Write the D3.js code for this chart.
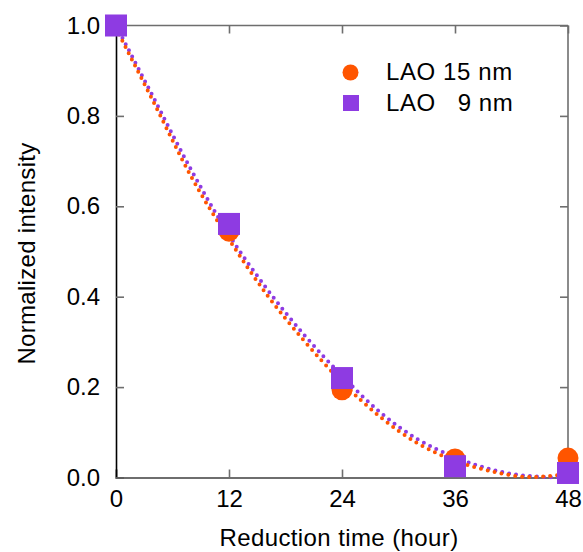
<!DOCTYPE html>
<html>
<head>
<meta charset="utf-8">
<script src="https://cdn.jsdelivr.net/npm/d3@7"></script>
<style>
  html, body { margin: 0; padding: 0; background: #fff; }
  svg { display: block; font-family: "Liberation Sans", Arial, Helvetica, sans-serif; }
</style>
</head>
<body>
<svg id="chart" width="583" height="552"></svg>
<script>
// Measured points
const hours = [0, 12, 24, 36, 48];
const lao15 = [1.0, 0.545, 0.194, 0.041, 0.043];
const lao9  = [1.0, 0.561, 0.220, 0.025, 0.010];

// Fitted trend curves (sampled)
const fitHours = [0, 4, 8, 12, 16, 20, 24, 28, 32, 36, 40, 44, 48];
const fit15 = [0.994, 0.83, 0.665, 0.527, 0.405, 0.302, 0.211, 0.135, 0.076, 0.037, 0.013, 0.001, 0.008];
const fit9  = [1.0, 0.84, 0.68, 0.537, 0.418, 0.315, 0.225, 0.145, 0.085, 0.045, 0.017, 0.003, 0.0];

// Axis ticks and labels
const xTicks = [0, 12, 24, 36, 48];
const yTicks = [0, 0.2, 0.4, 0.6, 0.8, 1.0];
const seriesNames = ["LAO 15 nm", "LAO   9 nm"];
const xTitle = "Reduction time (hour)";
const yTitle = "Normalized intensity";

(function draw() {
  const orange = "#ff5500";
  const purple = "#8e3be2";
  const gray = "#6e6e6e";
  const font = "Liberation Sans, Arial, sans-serif";

  const svg = d3.select("#chart");
  const m = { left: 116, right: 568, top: 25.5, bottom: 477.5 };

  const x = d3.scaleLinear().domain([0, 48]).range([m.left, m.right]);
  const y = d3.scaleLinear().domain([0, 1]).range([m.bottom, m.top]);

  // Frame
  svg.append("line").attr("x1", m.left).attr("x2", m.right).attr("y1", m.top).attr("y2", m.top)
    .attr("stroke", gray).attr("stroke-width", 1.6);
  svg.append("line").attr("x1", m.right).attr("x2", m.right).attr("y1", m.top).attr("y2", m.bottom)
    .attr("stroke", gray).attr("stroke-width", 1.6);

  // Bottom axis with inward ticks
  const xAxis = svg.append("g").attr("transform", `translate(0,${m.bottom})`)
    .call(d3.axisBottom(x).tickValues(xTicks).tickSize(-8).tickPadding(12).tickFormat(d3.format("d")));
  xAxis.select(".domain").attr("stroke", gray).attr("stroke-width", 1.8);
  xAxis.selectAll(".tick line").attr("stroke", gray).attr("stroke-width", 1.6);
  xAxis.selectAll(".tick text").attr("fill", "#000").style("font-size", "24px")
    .style("font-family", font);

  // Top ticks
  const xTop = svg.append("g").attr("transform", `translate(0,${m.top})`)
    .call(d3.axisTop(x).tickValues(xTicks).tickSize(-8).tickFormat(""));
  xTop.select(".domain").remove();
  xTop.selectAll(".tick line").attr("stroke", gray).attr("stroke-width", 1.6);

  // Right ticks
  const yRight = svg.append("g").attr("transform", `translate(${m.right},0)`)
    .call(d3.axisRight(y).tickValues(yTicks).tickSize(-8).tickFormat(""));
  yRight.select(".domain").remove();
  yRight.selectAll(".tick line").attr("stroke", gray).attr("stroke-width", 1.6);

  // Left axis
  const yAxis = svg.append("g").attr("transform", `translate(${m.left},0)`)
    .call(d3.axisLeft(y).tickValues(yTicks).tickSize(-8).tickPadding(16).tickFormat(d3.format(".1f")));
  yAxis.select(".domain").attr("stroke", "#000").attr("stroke-width", 1.6);
  yAxis.selectAll(".tick line").attr("stroke", gray).attr("stroke-width", 1.6);
  yAxis.selectAll(".tick text").attr("fill", "#000").style("font-size", "24px")
    .style("font-family", font);

  // Axis titles
  svg.append("text").attr("x", (m.left + m.right) / 2 - 3).attr("y", 546)
    .attr("text-anchor", "middle").style("font-size", "24px").style("letter-spacing", "0.4px")
    .text(xTitle);
  svg.append("text")
    .attr("transform", `translate(35,${(m.top + m.bottom) / 2 + 2}) rotate(-90)`)
    .attr("text-anchor", "middle").style("font-size", "24px").style("letter-spacing", "0.3px")
    .text(yTitle);

  // Fit curves (dotted)
  const line = d3.line().x(d => x(d[0])).y(d => y(d[1])).curve(d3.curveMonotoneX);
  const drawFit = (vals, color) => svg.append("path")
    .datum(fitHours.map((h, i) => [h, vals[i]]))
    .attr("d", line).attr("fill", "none").attr("stroke", color)
    .attr("stroke-width", 4).attr("stroke-linecap", "round")
    .attr("stroke-dasharray", "0 7");
  drawFit(fit9, purple);
  drawFit(fit15, orange);

  // Markers: circles for 15 nm, squares for 9 nm on top
  svg.append("g").selectAll("circle").data(hours.map((h, i) => [h, lao15[i]]))
    .join("circle").attr("cx", d => x(d[0])).attr("cy", d => y(d[1]))
    .attr("r", 10.5).attr("fill", orange);
  const sq = 22;
  svg.append("g").selectAll("rect").data(hours.map((h, i) => [h, lao9[i]]))
    .join("rect").attr("x", d => x(d[0]) - sq / 2).attr("y", d => y(d[1]) - sq / 2)
    .attr("width", sq).attr("height", sq).attr("fill", purple);

  // Legend
  const legend = svg.append("g");
  const rowY = [72.5, 103];
  legend.append("circle").attr("cx", 350.5).attr("cy", rowY[0]).attr("r", 8).attr("fill", orange);
  legend.append("rect").attr("x", 343).attr("y", rowY[1] - 8).attr("width", 16).attr("height", 16).attr("fill", purple);
  seriesNames.forEach((name, i) => {
    legend.append("text").attr("x", 386).attr("y", rowY[i] + 7.5)
      .style("font-size", "24px").style("letter-spacing", "0.6px")
      .style("white-space", "pre").attr("xml:space", "preserve")
      .text(name);
  });
})();
</script>
</body>
</html>
